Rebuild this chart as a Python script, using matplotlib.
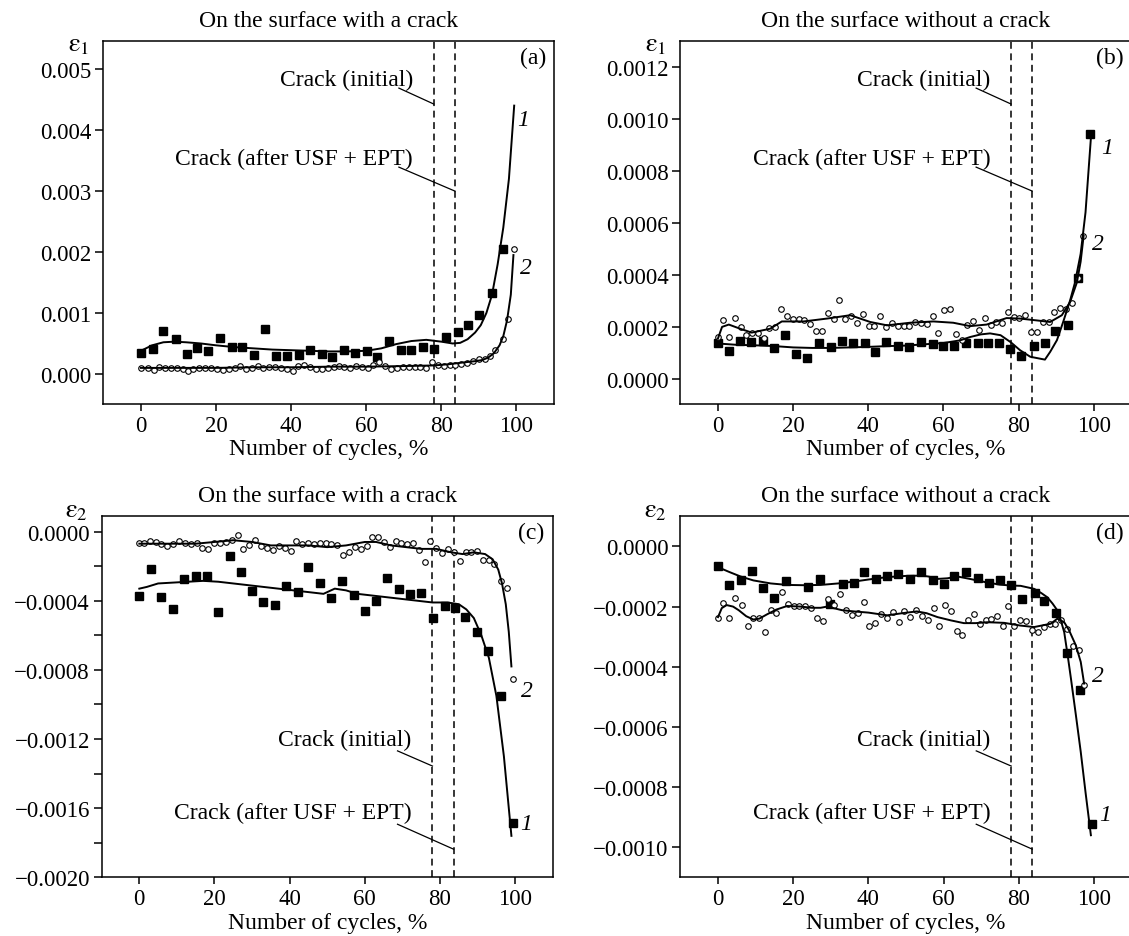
import matplotlib
matplotlib.use('Agg')
import matplotlib.pyplot as plt
from matplotlib.ticker import MultipleLocator, FuncFormatter

plt.rcParams['font.family'] = ['Liberation Serif', 'DejaVu Serif']
plt.rcParams['mathtext.fontset'] = 'stix'
plt.rcParams['axes.linewidth'] = 1.1

# ---------------- data ----------------
# (a) eps1, surface with crack
a_sq_x = [0, 3.3, 6, 9.3, 12.2, 15, 18, 21.2, 24.3, 27, 30, 33, 36, 39, 42, 45, 48.2, 51, 54, 57,
          60.3, 62.8, 66.2, 69.2, 72, 75, 78, 81.2, 84.5, 87, 89.9, 93.4, 96.3]
a_sq_y = [0.00034, 0.00041, 0.0007, 0.00057, 0.00033, 0.00043, 0.00038, 0.00059, 0.00044, 0.00045,
          0.00031, 0.00073, 0.0003, 0.0003, 0.00031, 0.00039, 0.00033, 0.00028, 0.00039, 0.00034,
          0.00037, 0.00028, 0.00054, 0.00039, 0.00039, 0.00044, 0.00041, 0.0006, 0.00069, 0.0008,
          0.00097, 0.00133, 0.00205]
a_ci_x = [0, 1.8, 3.4, 4.9, 6.5, 8.0, 9.5, 11.1, 12.5, 14.0, 15.5, 17.1, 18.7, 20.3, 21.8, 23.4,
          25.0, 26.4, 28.0, 29.5, 31.1, 32.6, 34.2, 35.8, 37.3, 38.8, 40.4, 41.9, 43.5, 45.1, 46.7,
          48.2, 49.8, 51.4, 52.7, 54.2, 55.8, 57.3, 58.9, 60.4, 61.9, 63.5, 65.1, 66.7, 68.2, 69.8,
          71.3, 72.9, 74.4, 76.0, 77.6, 79.2, 80.7, 82.2, 83.7, 85.3, 86.9, 88.4, 89.9, 91.5, 92.9,
          94.2, 96.3, 97.7, 99.4]
a_ci_y = [0.000093, 0.000093, 0.000066, 0.000109, 0.000093, 0.000093, 0.000093, 0.000082, 0.000055,
          0.000082, 0.000093, 0.000093, 0.000093, 0.000082, 0.000071, 0.000082, 0.000093, 0.000126,
          0.000082, 0.000093, 0.000126, 0.000093, 0.000109, 0.000109, 0.000093, 0.000082, 0.000055,
          0.000126, 0.000148, 0.000109, 0.000082, 0.000082, 0.000093, 0.000109, 0.000137, 0.00012,
          0.000093, 0.000126, 0.000115, 0.000093, 0.000148, 0.000202, 0.000126, 0.000082, 0.000093,
          0.000109, 0.000109, 0.000109, 0.000109, 0.000093, 0.000191, 0.000148, 0.000126, 0.000148,
          0.000148, 0.000164, 0.000186, 0.000219, 0.00024, 0.00024, 0.00029, 0.00039, 0.00057,
          0.0009, 0.00205]
a_c1_x = [0, 3, 6, 9, 12, 16, 20, 25, 30, 35, 40, 45, 50, 55, 60, 64, 68, 72, 76, 80, 83, 85, 87,
          89, 90.5, 92, 93.5, 95, 96.5, 98, 99.4]
a_c1_y = [0.00038, 0.00047, 0.00052, 0.00053, 0.00052, 0.0005, 0.00047, 0.00044, 0.00042, 0.0004,
          0.00039, 0.00038, 0.00037, 0.00037, 0.00038, 0.00042, 0.00049, 0.00054, 0.00056, 0.00053,
          0.0005, 0.00051, 0.00057, 0.00068, 0.0008, 0.001, 0.0013, 0.0018, 0.0024, 0.0032, 0.0044]
a_c2_x = [0, 10, 20, 30, 40, 50, 60, 70, 78, 82, 86, 89, 91, 92.5, 94, 95.5, 96.5, 97.5, 98.5, 99.2]
a_c2_y = [0.0001, 0.0001, 0.0001, 0.00011, 0.00011, 0.00012, 0.00012, 0.00013, 0.00014, 0.00016,
          0.00019, 0.00021, 0.00023, 0.00027, 0.00034, 0.00047, 0.00062, 0.00088, 0.0013, 0.00195]

# (b) eps1, surface without crack
b_sq_x = [0, 3.0, 5.8, 8.9, 12.0, 14.9, 17.9, 20.9, 23.8, 26.9, 30.0, 33.0, 35.9, 39.0, 41.9, 44.8,
          48.0, 50.9, 53.9, 57.1, 60.0, 62.8, 66.0, 69.1, 71.9, 74.9, 77.7, 80.7, 84.2, 86.9, 89.8,
          93.1, 95.9, 99.0]
b_sq_y = [0.000138, 0.000106, 0.000146, 0.00014, 0.000146, 0.000117, 0.000167, 0.000096, 0.000078,
          0.000138, 0.00012, 0.000145, 0.000136, 0.000137, 0.000104, 0.00014, 0.000127, 0.000122,
          0.000142, 0.000132, 0.000127, 0.000127, 0.000136, 0.000138, 0.000138, 0.000138, 0.000114,
          0.000086, 0.000126, 0.000136, 0.000185, 0.000208, 0.000387, 0.00094]
b_ci_x = [0, 1.3, 3.0, 4.5, 6.1, 7.5, 9.1, 10.7, 12.3, 13.7, 15.3, 16.8, 18.4, 19.9, 21.5, 23.0,
          24.5, 26.1, 27.7, 29.2, 30.8, 32.3, 33.9, 35.5, 37.0, 38.6, 40.2, 41.6, 43.2, 44.8, 46.3,
          47.9, 49.4, 50.9, 52.5, 54.0, 55.6, 57.1, 58.6, 60.2, 61.7, 63.3, 64.9, 66.4, 67.9, 69.4,
          71.0, 72.6, 74.1, 75.6, 77.1, 78.7, 80.2, 81.8, 83.3, 84.8, 86.4, 88.0, 89.5, 91.1, 92.6,
          94.2, 95.9, 97.2]
b_ci_y = [0.00016, 0.000226, 0.000162, 0.000233, 0.000197, 0.000169, 0.000176, 0.000177, 0.000156,
          0.000196, 0.000199, 0.000267, 0.000241, 0.000231, 0.000228, 0.000224, 0.000212, 0.000182,
          0.000182, 0.000253, 0.000231, 0.000304, 0.000228, 0.000242, 0.000214, 0.00025, 0.000204,
          0.000201, 0.000241, 0.000199, 0.000215, 0.000203, 0.000201, 0.000204, 0.000218, 0.000215,
          0.000212, 0.000242, 0.000177, 0.000263, 0.000267, 0.000173, 0.000147, 0.000208, 0.000223,
          0.000188, 0.000235, 0.000208, 0.000218, 0.000214, 0.000256, 0.000237, 0.000233, 0.000244,
          0.00018, 0.00018, 0.000218, 0.000218, 0.000255, 0.000272, 0.000269, 0.000291, 0.000387,
          0.00055]
b_c1_x = [0, 5, 10, 15, 20, 25, 30, 35, 40, 45, 50, 55, 60, 64.4, 67.1, 69.9, 72.4, 75.2, 77.9,
          80.4, 83.1, 87, 88.4, 90.2, 91.9, 93.7, 95, 96.5, 97.8, 99.2]
b_c1_y = [0.000135, 0.00013, 0.000128, 0.000125, 0.00012, 0.000118, 0.000118, 0.00012, 0.000122,
          0.000125, 0.000127, 0.000132, 0.000137, 0.000147, 0.00016, 0.00017, 0.000174, 0.000167,
          0.00014, 0.000109, 0.000084, 0.000073, 0.000103, 0.000148, 0.00022, 0.000301, 0.00037,
          0.00048, 0.00064, 0.00092]
b_c2_x = [0, 1.1, 2.9, 5.9, 9.0, 13.9, 17, 22.8, 29, 35.2, 40.5, 45, 51.1, 57.3, 62.6, 67.1, 71.5,
          76.8, 80.4, 84.8, 88.4, 91.5, 93.7, 95.5, 96.5, 97.3]
b_c2_y = [0.000154, 0.000199, 0.000208, 0.000192, 0.000177, 0.000192, 0.00022, 0.00022, 0.000231,
          0.000244, 0.000218, 0.000205, 0.000215, 0.00022, 0.000215, 0.000202, 0.000208, 0.000233,
          0.000231, 0.000224, 0.000218, 0.000244, 0.000295, 0.00037, 0.00045, 0.00055]

# (c) eps2, surface with crack
c_sq_x = [0, 3.0, 5.8, 9.0, 12.0, 15.0, 18.0, 20.9, 24.1, 27.0, 30.1, 32.9, 36.1, 39.1, 42.1, 45.0,
          48.0, 51.0, 54.0, 57.0, 60.0, 63.0, 66.0, 69.1, 72.1, 75.0, 78.1, 81.2, 84.0, 86.7, 89.8,
          92.9, 96.1, 99.3]
c_sq_y = [-0.000371, -0.000219, -0.000377, -0.00045, -0.000277, -0.000259, -0.000259, -0.000464,
          -0.000144, -0.000232, -0.000344, -0.000406, -0.000425, -0.000317, -0.000352, -0.000207,
          -0.0003, -0.000387, -0.000286, -0.000365, -0.000458, -0.0004, -0.000269, -0.000333,
          -0.000361, -0.000354, -0.000502, -0.000429, -0.000444, -0.000496, -0.000581, -0.000691,
          -0.000951, -0.001686]
c_ci_x = [0, 1.3, 2.9, 4.4, 5.9, 7.5, 9.0, 10.6, 12.2, 13.7, 15.3, 16.8, 18.4, 19.9, 21.5, 23.0,
          24.6, 26.2, 27.7, 29.3, 30.8, 32.4, 34.0, 35.6, 37.1, 38.7, 40.3, 41.8, 43.4, 44.9, 46.5,
          48.0, 49.6, 51.1, 52.7, 54.2, 55.8, 57.4, 58.9, 60.5, 62.0, 63.6, 65.1, 66.6, 68.2, 69.7,
          71.3, 72.8, 74.4, 76.0, 77.3, 79.0, 80.6, 82.1, 83.7, 85.2, 86.8, 88.3, 89.9, 91.4, 93.0,
          94.5, 96.1, 97.7, 99.3]
c_ci_y = [-0.000068, -0.000066, -0.000053, -0.000059, -0.000074, -0.000082, -0.000072, -0.000053,
          -0.000068, -0.000072, -0.000068, -0.000097, -0.000101, -0.000068, -0.000065, -0.000059,
          -0.000047, -0.000018, -0.000101, -0.000078, -0.000047, -0.000086, -0.000097, -0.000105,
          -0.000082, -0.000097, -0.000115, -0.000053, -0.000072, -0.000068, -0.000072, -0.000066,
          -0.000068, -0.000074, -0.000078, -0.000134, -0.000117, -0.000088, -0.000101, -0.000082,
          -0.000034, -0.000034, -0.000063, -0.000088, -0.000057, -0.000066, -0.000072, -0.000068,
          -0.000105, -0.000178, -0.000053, -0.000095, -0.000124, -0.000101, -0.000117, -0.000171,
          -0.00012, -0.000117, -0.000111, -0.000163, -0.000163, -0.000188, -0.000284, -0.000329,
          -0.000853]
c_c1_x = [0, 2, 5, 9, 13, 17, 21, 25, 29, 33, 37, 41, 45, 49, 52, 55, 58, 62, 66, 70, 74, 78, 82,
          85, 87, 89, 91, 93, 95, 97, 99]
c_c1_y = [-0.00033, -0.00032, -0.00030, -0.000295, -0.00029, -0.000285, -0.00029, -0.0003,
          -0.00031, -0.00032, -0.00033, -0.00034, -0.00035, -0.00036, -0.00033, -0.00034, -0.00036,
          -0.00037, -0.00038, -0.00039, -0.0004, -0.00041, -0.00041, -0.00042, -0.00045, -0.0005,
          -0.0006, -0.00073, -0.00095, -0.0013, -0.00176]
c_c2_x = [0, 5, 10, 15, 20, 25, 30, 35, 40, 45, 50, 55, 60, 63, 67, 71, 75, 79, 83, 86, 89, 92,
          94, 95.5, 96.5, 97.5, 98.3, 99]
c_c2_y = [-0.00007, -0.00007, -0.00007, -0.00007, -0.00006, -0.00005, -0.00006, -0.00008, -0.00008,
          -0.00008, -0.00009, -0.00008, -0.00006, -0.00006, -0.00008, -0.00009, -0.0001, -0.0001,
          -0.00012, -0.00013, -0.00012, -0.00013, -0.00016, -0.00022, -0.0003, -0.00042, -0.00058,
          -0.00078]

# (d) eps2, surface without crack
d_sq_x = [0, 3.0, 6.0, 9.0, 11.9, 15.0, 18.0, 24.0, 27.0, 29.7, 33.2, 36.1, 38.8, 42.1, 45.0, 48.0,
          51.0, 54.0, 57.1, 60.1, 62.9, 66.0, 69.1, 72.0, 75.0, 77.9, 81.0, 84.4, 86.8, 89.9, 92.8,
          96.3, 99.6]
d_sq_y = [-0.0000658, -0.000127, -0.000111, -0.0000813, -0.000139, -0.000171, -0.000114, -0.000135,
          -0.000107, -0.000192, -0.000125, -0.000121, -0.0000857, -0.000109, -0.0000989, -0.0000901,
          -0.000109, -0.0000857, -0.000111, -0.000124, -0.0000989, -0.0000857, -0.000104, -0.000121,
          -0.00011, -0.000127, -0.000174, -0.000154, -0.000183, -0.000222, -0.000354, -0.000478,
          -0.000923]
d_ci_x = [0, 1.4, 3.0, 4.6, 6.3, 7.9, 9.4, 11.0, 12.4, 14.0, 15.5, 17.1, 18.6, 20.1, 21.6, 23.1,
          24.7, 26.3, 27.8, 29.3, 30.8, 32.5, 34.0, 35.6, 37.2, 38.8, 40.2, 41.8, 43.4, 45.0, 46.5,
          48.1, 49.6, 51.2, 52.8, 54.3, 55.8, 57.4, 58.9, 60.3, 61.9, 63.5, 65.0, 66.6, 68.1, 69.7,
          71.2, 72.7, 74.3, 75.7, 77.2, 78.8, 80.4, 82.0, 83.5, 85.0, 86.6, 88.2, 89.7, 91.2, 92.8,
          94.5, 96.1, 97.4]
d_ci_y = [-0.000237, -0.000189, -0.000237, -0.000171, -0.000196, -0.000265, -0.000237, -0.000237,
          -0.000285, -0.000211, -0.000221, -0.000152, -0.000191, -0.000198, -0.000198, -0.000198,
          -0.000204, -0.000238, -0.000248, -0.000174, -0.000194, -0.000158, -0.000211, -0.000227,
          -0.000221, -0.000185, -0.000263, -0.000254, -0.000224, -0.000238, -0.000218, -0.000252,
          -0.000216, -0.000235, -0.00021, -0.000232, -0.000246, -0.000205, -0.000263, -0.000194,
          -0.000215, -0.000282, -0.000296, -0.000243, -0.000226, -0.000259, -0.000243, -0.00024,
          -0.000232, -0.000266, -0.000198, -0.000263, -0.000246, -0.000248, -0.000277, -0.000285,
          -0.000268, -0.000257, -0.000257, -0.000243, -0.000274, -0.000331, -0.000343, -0.000459]
d_c1_x = [0, 3, 6, 9.4, 14, 18.4, 23, 27.3, 32, 36.1, 40, 45, 50, 53.9, 56, 58.4, 61, 63.7, 67,
          71.6, 75, 77.9, 80.5, 84.1, 86, 87.6, 89, 90.3, 91.3, 92.1, 93, 93.9, 95.2, 96.5, 97.8,
          99.2]
d_c1_y = [-0.000069, -0.000085, -0.0001, -0.000113, -0.000123, -0.000128, -0.000129, -0.000128,
          -0.000123, -0.000117, -0.00011, -0.000102, -0.000098, -0.000097, -0.0001, -0.000108,
          -0.000106, -0.0001, -0.000108, -0.00012, -0.000127, -0.00013, -0.000131, -0.000141,
          -0.000155, -0.000169, -0.00019, -0.000213, -0.00025, -0.000285, -0.00036, -0.00044,
          -0.00056, -0.000683, -0.00082, -0.00096]
d_c2_x = [0, 1, 2.3, 4, 5.5, 7.5, 9.4, 11, 13, 15.5, 18.4, 22, 25, 27.3, 29, 31, 33, 36.1, 40, 45,
          49, 52.9, 55.5, 58.4, 62, 65.4, 68.5, 71.6, 76.1, 80.4, 84.1, 88.5, 90.3, 92.1, 93.4,
          95.2, 96.5, 97.4]
d_c2_y = [-0.000235, -0.000205, -0.000195, -0.0002, -0.000212, -0.000232, -0.000243, -0.00024,
          -0.000226, -0.00021, -0.000198, -0.0002, -0.000204, -0.000204, -0.0002, -0.000206,
          -0.000212, -0.000216, -0.00022, -0.000229, -0.000222, -0.000216, -0.000222, -0.000235,
          -0.000246, -0.000255, -0.000255, -0.000252, -0.000254, -0.000263, -0.000268, -0.000257,
          -0.00024, -0.000252, -0.000279, -0.000329, -0.000384, -0.000456]

crack_x = [78, 83.6]
x_ticks = [0, 20, 40, 60, 80, 100]

panels = [
    dict(name='(a)', title='On the surface with a crack', ylab=r'$\mathrm{\varepsilon}_1$',
         sq=(a_sq_x, a_sq_y), ci=(a_ci_x, a_ci_y), c1=(a_c1_x, a_c1_y), c2=(a_c2_x, a_c2_y),
         ylim=(-0.000484, 0.00546), step=0.001, minor=None, nd=3,
         lab1=(101.8, 0.00418), lab2=(102.5, 0.00175), top=True),
    dict(name='(b)', title='On the surface without a crack', ylab=r'$\mathrm{\varepsilon}_1$',
         sq=(b_sq_x, b_sq_y), ci=(b_ci_x, b_ci_y), c1=(b_c1_x, b_c1_y), c2=(b_c2_x, b_c2_y),
         ylim=(-0.000096, 0.0013), step=0.0002, minor=None, nd=4,
         lab1=(103.5, 0.00089), lab2=(101.1, 0.00052), top=True),
    dict(name='(c)', title='On the surface with a crack', ylab=r'$\mathrm{\varepsilon}_2$',
         sq=(c_sq_x, c_sq_y), ci=(c_ci_x, c_ci_y), c1=(c_c1_x, c_c1_y), c2=(c_c2_x, c_c2_y),
         ylim=(-0.002, 0.00009), step=0.0004, minor=0.0002, nd=4,
         lab1=(103, -0.00169), lab2=(103, -0.00092), top=False),
    dict(name='(d)', title='On the surface without a crack', ylab=r'$\mathrm{\varepsilon}_2$',
         sq=(d_sq_x, d_sq_y), ci=(d_ci_x, d_ci_y), c1=(d_c1_x, d_c1_y), c2=(d_c2_x, d_c2_y),
         ylim=(-0.0011, 0.000101), step=0.0002, minor=None, nd=4,
         lab1=(103, -0.00089), lab2=(101, -0.00043), top=False),
]

# axes rectangles in figure fractions (left, bottom, width, height)
rects = [(0.0915, 0.5683, 0.3992, 0.3869),
         (0.6026, 0.5683, 0.3995, 0.3869),
         (0.0901, 0.0626, 0.3995, 0.3856),
         (0.6027, 0.0626, 0.3995, 0.3856)]


def tick_fmt(nd):
    def f(v, pos):
        if abs(v) < 1e-12:
            return '%.*f' % (nd, 0.0)
        return ('%.*f' % (nd, v)).replace('-', '\u2212')
    return FuncFormatter(f)


fig = plt.figure(figsize=(11.29, 9.37), dpi=100)

for p, r in zip(panels, rects):
    ax = fig.add_axes(r)
    ax.set_xlim(-10, 110)
    ax.set_ylim(*p['ylim'])
    ax.set_xticks(x_ticks)
    ax.yaxis.set_major_locator(MultipleLocator(p['step']))
    if p['minor']:
        ax.yaxis.set_minor_locator(MultipleLocator(p['minor']))
    ax.yaxis.set_major_formatter(tick_fmt(p['nd']))
    ax.tick_params(which='both', direction='out', length=5.5, width=1.1, labelsize=16.5, pad=3)
    ax.tick_params(axis='x', length=5)

    for cx in crack_x:
        ax.axvline(cx, color='black', lw=1.1, dashes=(4.5, 3), zorder=1)

    ax.plot(*p['sq'], ls='none', marker='s', ms=5.2, mfc='black', mec='black', zorder=2)
    ax.plot(*p['ci'], ls='none', marker='o', ms=4.0, mfc='white', mec='black', mew=0.8, zorder=2.5)
    ax.plot(*p['c1'], color='black', lw=1.4, zorder=3)
    ax.plot(*p['c2'], color='black', lw=1.4, zorder=3)

    ax.text(*p['lab1'], '1', fontsize=17, style='italic', ha='center', va='center')
    ax.text(*p['lab2'], '2', fontsize=17, style='italic', ha='center', va='center')

    ax.set_xlabel('Number of cycles, %', fontsize=17, labelpad=2)
    ax.set_title(p['title'], fontsize=17, pad=11)
    ax.text(0.982, 0.985, p['name'], transform=ax.transAxes, fontsize=17, ha='right', va='top')
    ax.text(-0.03, 0.99 if p['top'] else 1.015, p['ylab'], transform=ax.transAxes,
            fontsize=19, ha='right', va='center')

    # crack annotations with leader lines
    tr = ax.get_xaxis_transform()
    if p['top']:
        t1, l1, e1, t2, l2, e2 = 0.895, 0.870, 0.826, 0.677, 0.652, 0.586
    else:
        t1, l1, e1, t2, l2, e2 = 0.383, 0.350, 0.308, 0.180, 0.147, 0.078
    ax.text(0.687, t1, 'Crack (initial)', transform=ax.transAxes, fontsize=17,
            ha='right', va='center')
    ax.text(0.687, t2, 'Crack (after USF + EPT)', transform=ax.transAxes, fontsize=17,
            ha='right', va='center')
    ax.plot([68.7, crack_x[0]], [l1, e1], transform=tr, color='black', lw=0.9)
    ax.plot([68.7, crack_x[1]], [l2, e2], transform=tr, color='black', lw=0.9)

fig.savefig('out.png', dpi=100)
